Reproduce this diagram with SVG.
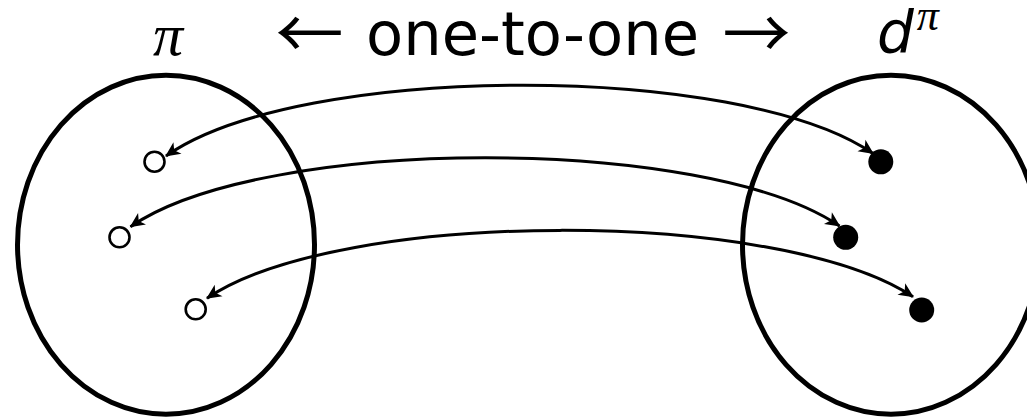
<svg xmlns="http://www.w3.org/2000/svg" width="1027" height="418" viewBox="0 0 1027 418">
<style>
.set{fill:none;stroke:#000;stroke-width:5}
.open{fill:#fff;stroke:#000;stroke-width:2.6}
.full{fill:#000;stroke:none}
.conn{fill:none;stroke:#000;stroke-width:3;stroke-linecap:butt}
.lbl{font-family:"DejaVu Sans",sans-serif;font-size:60px;fill:#000}
.math{font-family:"Liberation Serif",serif;font-style:italic;fill:#000}
.arr{font-family:"Noto Sans CJK JP","DejaVu Sans",sans-serif;font-size:68px;fill:#000}
</style>
<defs>
<marker id="ah" markerUnits="userSpaceOnUse" markerWidth="20" markerHeight="20" viewBox="-16 -8 20 16" refX="1" refY="0" orient="auto-start-reverse">
<path d="M2,0 L-13,-7 L-9,0 L-13,7 Z" fill="#000"/>
</marker>
</defs>
<g id="title">
<text class="math" x="168" y="55" font-size="60" text-anchor="middle">π</text>
<text class="arr" x="309.5" y="59" text-anchor="middle">←</text>
<text class="lbl" x="366" y="55" textLength="333" lengthAdjust="spacingAndGlyphs">one-to-one</text>
<text class="arr" x="756.5" y="59" text-anchor="middle">→</text>
<text x="877" y="53" font-family="DejaVu Sans, sans-serif" font-style="italic" font-size="58">d<tspan class="math" font-size="44" dx="3" dy="-23">π</tspan></text>
</g>
<g id="set-pi"><ellipse class="set" cx="166" cy="244.7" rx="148.5" ry="169.5"/></g>
<g id="set-dpi"><ellipse class="set" cx="891" cy="244.7" rx="148.5" ry="169.5"/></g>
<g id="p1"><circle class="open" cx="154.5" cy="161.7" r="10"/></g>
<g id="p2"><circle class="open" cx="119.5" cy="237.3" r="10"/></g>
<g id="p3"><circle class="open" cx="195.7" cy="309.3" r="10"/></g>
<g id="d1"><circle class="full" cx="880.8" cy="161.8" r="12.5"/></g>
<g id="d2"><circle class="full" cx="845.7" cy="237.3" r="12.5"/></g>
<g id="d3"><circle class="full" cx="921.7" cy="310" r="12.5"/></g>
<g id="connectors">
<path class="conn" marker-start="url(#ah)" marker-end="url(#ah)" d="M166,156 C300,62 740,62 873,153.5"/>
<path class="conn" marker-start="url(#ah)" marker-end="url(#ah)" d="M130.5,226.7 C264,135 706,135 839.5,226"/>
<path class="conn" marker-start="url(#ah)" marker-end="url(#ah)" d="M207,298.3 C341,208 779,208 913,296.7"/>
</g>
</svg>
